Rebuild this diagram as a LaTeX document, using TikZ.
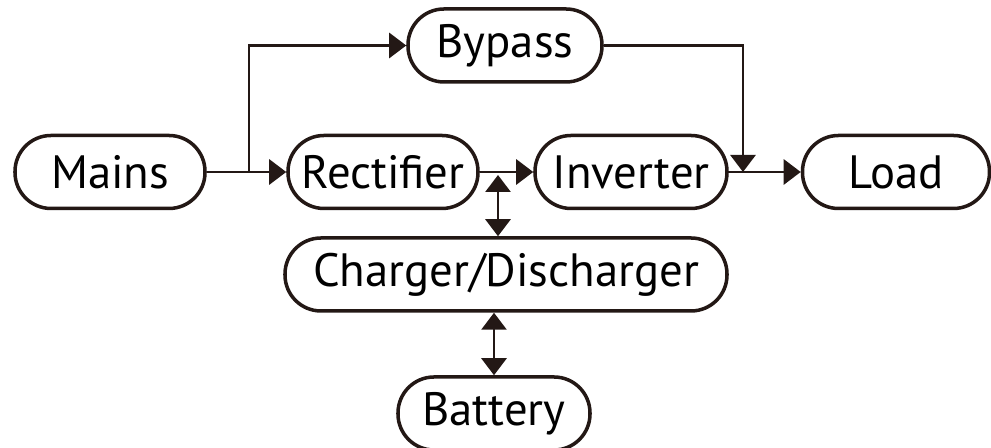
\documentclass[tikz,border=0pt]{standalone}
\usepackage{fontspec}
\setmainfont{PT Sans}
\usetikzlibrary{arrows.meta,calc}
\definecolor{ink}{HTML}{231815}
\tikzset{
  block/.style={
    draw=ink,
    line width=2pt,
    rounded corners=0.72cm,
    minimum height=1.46cm,
    inner sep=0pt,
    font=\fontsize{26.6}{30}\selectfont
  },
  flow/.style={
    draw=ink,
    line width=1.6pt,
    -{Triangle[length=0.34cm,width=0.5cm]}
  },
  flowboth/.style={
    draw=ink,
    line width=1.6pt,
    {Triangle[length=0.34cm,width=0.5cm]}-{Triangle[length=0.34cm,width=0.5cm]}
  }
}

\begin{document}
\begin{tikzpicture}
    \useasboundingbox (0,0) rectangle (19.82,8.96);

    \node[block, minimum width=3.8cm] (mains) at (2.2,5.52) {Mains};
    \node[block, minimum width=3.8cm] (rect) at (7.66,5.52) {Rectifier};
    \node[block, minimum width=3.84cm] (inv) at (12.62,5.52) {Inverter};
    \node[block, minimum width=3.74cm] (load) at (17.92,5.52) {Load};
    \node[block, minimum width=3.88cm] (bypass) at (10.1,8.05) {Bypass};
    \node[block, minimum width=8.84cm] (charger) at (10.12,3.47) {Charger/Discharger};
    \node[block, minimum width=3.84cm] (battery) at (9.88,0.69) {Battery};

    \coordinate (split) at (4.98,5.52);
    \coordinate (join) at (14.86,5.52);
    \coordinate (tap) at (9.96,5.52);

    % main path
    \draw[flow] (mains) -- (rect);
    \draw[flow] (rect) -- (inv);
    \draw[flow] (inv) -- (load);

    % bypass branch
    \draw[flow] (split) |- (bypass);
    \draw[flow] (bypass) -| (join);

    % battery side
    \draw[flowboth] ($(tap)+(0,-0.06)$) -- (tap |- charger.north);
    \draw[flowboth] (charger.south -| battery.north) -- (battery);
\end{tikzpicture}
\end{document}
